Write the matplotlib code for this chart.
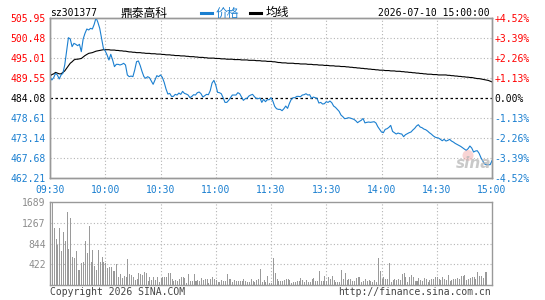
import matplotlib
matplotlib.use('Agg')
import matplotlib.pyplot as plt
from matplotlib.lines import Line2D
from matplotlib.patches import Ellipse
import numpy as np

# ---------------- data ----------------
code = "sz301377"
name = "鼎泰高科"
timestamp = "2026-07-10 15:00:00"
prev_close = 484.08

price_levels = [505.95, 500.48, 495.01, 489.55, 484.08, 478.61, 473.14, 467.68, 462.21]
pct_labels = ['+4.52%', '+3.39%', '+2.26%', '+1.13%', '0.00%', '-1.13%', '-2.26%', '-3.39%', '-4.52%']
time_ticks = [0, 30, 60, 90, 120, 150, 180, 210, 240]
time_labels = ['09:30', '10:00', '10:30', '11:00', '11:30', '13:30', '14:00', '14:30', '15:00']
vol_levels = [1689, 1267, 844, 422]

price = [
    489.83, 488.92, 489.56, 490.74, 490.29, 489.19, 490.29, 490.74, 493.02, 496.67,
    500.49, 500.13, 498.03, 498.94, 498.67, 498.31, 498.67, 496.67, 500.13, 501.68,
    502.86, 502.59, 503.04, 502.86, 504.14, 505.95, 504.69, 503.04, 500.31, 497.58,
    496.85, 495.75, 494.39, 495.94, 494.39, 492.57, 493.20, 493.20, 493.02, 493.20,
    493.48, 493.02, 490.29, 489.83, 490.00, 489.83, 491.65, 493.93, 494.12, 492.84,
    491.20, 489.83, 489.38, 489.83, 489.56, 488.65, 487.74, 488.92, 490.10, 489.83,
    490.30, 489.64, 488.27, 486.45, 485.08, 485.26, 484.44, 484.44, 484.99, 484.81,
    485.36, 484.99, 485.81, 485.26, 485.08, 484.81, 484.08, 484.44, 484.90, 484.81,
    485.45, 485.63, 485.17, 484.26, 484.63, 484.99, 484.90, 485.99, 488.09, 488.82,
    487.54, 485.54, 485.45, 485.17, 484.08, 482.80, 482.80, 483.35, 484.08, 484.81,
    484.81, 484.81, 485.45, 485.17, 484.26, 483.35, 483.81, 483.90, 484.54, 484.81,
    484.99, 484.35, 483.90, 483.81, 483.99, 482.80, 483.62, 482.99, 483.53, 483.53,
    484.08, 483.17, 481.71, 481.07, 480.89, 480.89, 480.53, 481.07, 481.80, 481.16,
    482.53, 483.62, 484.08, 484.08, 484.44, 484.44, 484.35, 484.81, 484.90, 485.17,
    484.81, 484.90, 483.90, 484.26, 484.08, 483.90, 482.62, 482.80, 482.35, 482.44,
    482.99, 482.80, 483.17, 482.71, 481.80, 481.44, 480.89, 480.34, 479.34, 478.89,
    478.34, 478.43, 478.61, 478.52, 478.34, 478.16, 477.79, 477.25, 477.61, 477.90,
    478.40, 477.20, 477.34, 477.43, 477.34, 477.43, 477.52, 477.16, 476.15, 475.42,
    474.69, 474.51, 475.42, 475.60, 475.97, 476.51, 474.87, 474.51, 474.15, 474.42,
    474.24, 474.15, 473.42, 473.96, 474.24, 474.51, 474.69, 475.24, 475.69, 476.33,
    476.70, 476.06, 475.88, 475.51, 475.33, 474.97, 474.51, 474.15, 473.69, 473.33,
    473.14, 473.05, 472.69, 472.32, 472.69, 472.23, 472.41, 472.69, 472.23, 471.96,
    471.59, 471.32, 471.05, 470.77, 470.41, 470.05, 469.68, 470.14, 470.87, 470.32,
    469.23, 469.50, 469.59, 468.86, 467.68, 466.77, 465.95, 465.77, 465.77, 465.77,
    466.86,
]

avg_price = [
    490.0, 490.4, 490.6, 491.0, 490.8, 490.6, 490.6, 491.0, 491.4, 492.1,
    492.8, 493.5, 493.9, 494.4, 494.6, 494.6, 494.7, 494.8, 495.2, 495.6,
    495.9, 496.2, 496.3, 496.4, 496.6, 496.8, 496.9, 497.0, 497.1, 497.2,
    497.2, 497.2, 497.2, 497.1, 497.1, 497.1, 497.0, 497.0, 496.9, 496.9,
    496.8, 496.8, 496.7, 496.6, 496.6, 496.5, 496.5, 496.4, 496.4, 496.4,
    496.3, 496.3, 496.2, 496.2, 496.2, 496.1, 496.1, 496.1, 496.0, 496.0,
    496.0, 495.9, 495.9, 495.8, 495.8, 495.8, 495.7, 495.7, 495.6, 495.6,
    495.6, 495.5, 495.5, 495.5, 495.4, 495.4, 495.3, 495.3, 495.3, 495.2,
    495.2, 495.1, 495.1, 495.1, 495.0, 495.0, 494.9, 494.9, 494.9, 494.9,
    494.8, 494.8, 494.8, 494.7, 494.7, 494.7, 494.6, 494.6, 494.6, 494.6,
    494.5, 494.5, 494.5, 494.5, 494.4, 494.4, 494.4, 494.4, 494.3, 494.3,
    494.3, 494.3, 494.2, 494.2, 494.2, 494.1, 494.1, 494.1, 494.0, 494.0,
    494.0, 493.9, 493.9, 493.8, 493.7, 493.7, 493.6, 493.6, 493.6, 493.5,
    493.5, 493.5, 493.5, 493.4, 493.4, 493.4, 493.3, 493.3, 493.3, 493.3,
    493.2, 493.2, 493.2, 493.1, 493.1, 493.1, 493.0, 493.0, 493.0, 492.9,
    492.9, 492.9, 492.8, 492.8, 492.8, 492.7, 492.7, 492.7, 492.6, 492.6,
    492.6, 492.5, 492.5, 492.4, 492.4, 492.3, 492.3, 492.2, 492.2, 492.1,
    492.1, 492.0, 492.0, 491.9, 491.9, 491.8, 491.8, 491.7, 491.7, 491.6,
    491.6, 491.6, 491.5, 491.5, 491.5, 491.4, 491.4, 491.4, 491.3, 491.3,
    491.3, 491.2, 491.2, 491.1, 491.1, 491.0, 491.0, 490.9, 490.9, 490.8,
    490.8, 490.7, 490.7, 490.6, 490.6, 490.5, 490.5, 490.5, 490.4, 490.4,
    490.4, 490.3, 490.3, 490.3, 490.3, 490.3, 490.2, 490.2, 490.1, 490.1,
    490.0, 490.0, 489.9, 489.9, 489.8, 489.8, 489.7, 489.7, 489.6, 489.6,
    489.5, 489.4, 489.3, 489.3, 489.2, 489.1, 489.0, 488.9, 488.8, 488.6,
    488.4,
]

volume = [
    160, 1689, 1151, 935, 814, 1151, 700, 1083, 902, 1487,
    727, 1353, 565, 545, 700, 310, 310, 444, 478, 902,
    660, 1198, 478, 713, 390, 310, 713, 478, 579, 478,
    444, 343, 377, 377, 296, 296, 431, 175, 229, 141,
    188, 175, 538, 229, 209, 175, 108, 128, 242, 229,
    209, 276, 242, 94, 161, 108, 175, 108, 175, 74,
    141, 161, 161, 175, 256, 242, 121, 94, 108, 94,
    121, 161, 175, 141, 40, 229, 94, 94, 229, 88,
    108, 94, 141, 108, 121, 121, 54, 121, 175, 135,
    108, 74, 74, 108, 94, 94, 229, 128, 128, 74,
    108, 94, 88, 94, 94, 121, 88, 74, 74, 121,
    88, 74, 108, 135, 330, 74, 108, 67, 188, 54,
    40, 559, 256, 128, 94, 94, 94, 108, 121, 121,
    108, 54, 74, 74, 94, 94, 155, 108, 74, 108,
    74, 74, 121, 141, 94, 94, 289, 94, 94, 188,
    94, 161, 121, 188, 108, 74, 74, 74, 310, 121,
    256, 108, 121, 121, 88, 88, 141, 161, 161, 74,
    94, 121, 94, 108, 94, 74, 108, 74, 559, 296,
    121, 161, 135, 121, 458, 74, 108, 121, 108, 121,
    108, 229, 256, 161, 74, 161, 209, 175, 94, 94,
    141, 108, 88, 148, 121, 74, 108, 121, 135, 175,
    161, 121, 108, 161, 135, 108, 209, 94, 108, 135,
    121, 148, 121, 188, 188, 209, 108, 135, 141, 161,
    175, 135, 276, 188, 188, 141, 276, 276, 0, 0,
    0,
]

# ---------------- style ----------------
BLUE = '#1a7fd0'
RED = '#ff0000'
GRID = '#b4b4b4'
BORDER = '#999999'
VOLC = '#9a9a9a'
MONO = 'DejaVu Sans Mono'
CJK = ['Noto Sans CJK SC', 'DejaVu Sans']
FS = 7

W, H = 545, 300
fig = plt.figure(figsize=(W / 100, H / 100), dpi=100)


def fx(px):
    return px / W


def fy(py):
    return 1 - py / H


ax = fig.add_axes([fx(50), fy(177.7), fx(442), 160 / H])
axv = fig.add_axes([fx(50), fy(285.3), fx(442), 83.6 / H])

minutes = np.arange(len(price))

# price panel
ax.set_xlim(time_ticks[0], time_ticks[-1])
ax.set_ylim(price_levels[-1], price_levels[0])
for lv in price_levels[1:-1]:
    if abs(lv - prev_close) < 1e-6:
        ax.axhline(lv, color='black', lw=0.9, dashes=(2, 2), zorder=1)
    else:
        ax.axhline(lv, color=GRID, lw=0.8, dashes=(1, 2), zorder=1)
for t in time_ticks[1:-1]:
    ax.axvline(t, color=GRID, lw=0.8, dashes=(1, 2), zorder=1)

ax.plot(minutes, avg_price, color='black', lw=0.8, zorder=3)
ax.plot(minutes, price, color=BLUE, lw=0.8, zorder=4)

ax.set_yticks(price_levels)
ax.set_yticklabels([f"{v:.2f}" for v in price_levels], fontsize=FS, family=MONO)
ax.tick_params(axis='y', length=0, pad=3.0)
ax.set_xticks(time_ticks)
ax.set_xticklabels(time_labels, fontsize=FS, family=MONO, color=BLUE)
ax.tick_params(axis='x', length=0, pad=5.0)


def level_color(v):
    if abs(v - prev_close) < 1e-6:
        return 'black'
    return RED if v > prev_close else BLUE


for lbl, v in zip(ax.get_yticklabels(), price_levels):
    lbl.set_color(level_color(v))

ax2 = ax.twinx()
ax2.set_ylim(ax.get_ylim())
ax2.set_yticks(price_levels)
ax2.set_yticklabels(pct_labels, fontsize=FS, family=MONO)
ax2.tick_params(axis='y', length=0, pad=1.8)
for lbl, v in zip(ax2.get_yticklabels(), price_levels):
    lbl.set_color(level_color(v))

for a in (ax, ax2, axv):
    for s in a.spines.values():
        s.set_color(BORDER)
        s.set_linewidth(1.0)

# volume panel
axv.set_xlim(time_ticks[0], time_ticks[-1])
axv.set_ylim(0, vol_levels[0])
for lv in vol_levels[1:]:
    axv.axhline(lv, color=GRID, lw=0.8, dashes=(1, 2), zorder=1)
for t in time_ticks[1:-1]:
    axv.axvline(t, color=GRID, lw=0.8, dashes=(1, 2), zorder=1)
axv.bar(minutes, volume, width=0.55, align='edge', color=VOLC, linewidth=0, zorder=2)
axv.set_yticks(vol_levels)
axv.set_yticklabels([str(v) for v in vol_levels], fontsize=FS, family=MONO, color='#8c8c8c')
axv.tick_params(axis='y', length=0, pad=3.0)
axv.set_xticks([])

# header
ty = fy(12.9)
fig.text(fx(50), ty, code, fontsize=FS, family=MONO, va='center', ha='left')
fig.text(fx(120), ty, name, fontsize=8.5, family=CJK, va='center', ha='left')
fig.add_artist(Line2D([fx(201), fx(212)], [fy(12.5), fy(12.5)], lw=2.2,
                      color=BLUE, transform=fig.transFigure))
fig.text(fx(216), ty, '价格', fontsize=8.5, family=CJK, color=BLUE, va='center', ha='left')
fig.add_artist(Line2D([fx(250), fx(261)], [fy(12.5), fy(12.5)], lw=2.2,
                      color='black', transform=fig.transFigure))
fig.text(fx(266), ty, '均线', fontsize=8.5, family=CJK, color='black', va='center', ha='left')
fig.text(fx(490), ty, timestamp, fontsize=FS, family=MONO, va='center', ha='right')

# footer
fig.text(fx(50), fy(292), 'Copyright 2026 SINA.COM', fontsize=FS, family=MONO,
         color='#444444', va='center', ha='left')
fig.text(fx(491), fy(292), 'http://finance.sina.com.cn', fontsize=FS, family=MONO,
         color='#444444', va='center', ha='right')

# watermark
fig.add_artist(Ellipse((fx(468), fy(155.5)), 11 / W, 11 / H, transform=fig.transFigure,
                       facecolor='#f0a0a0', edgecolor='none', alpha=0.45, zorder=5))
fig.text(fx(474), fy(163.5), 'sina', fontsize=11, fontstyle='italic', fontweight='bold',
         color='#b8b8b8', alpha=0.75, va='center', ha='center', zorder=5)

fig.savefig('out.png', dpi=100)
